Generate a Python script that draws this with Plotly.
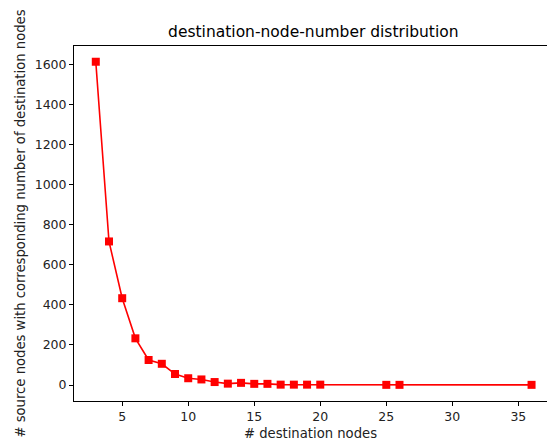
import plotly.graph_objects as go

dest_nodes = [3, 4, 5, 6, 7, 8, 9, 10, 11, 12, 13, 14, 15, 16, 17, 18, 19, 20, 25, 26, 36]
source_counts = [1612, 716, 433, 233, 125, 106, 55, 34, 28, 15, 7, 11, 6, 6, 2, 2, 2, 2, 1, 1, 1]

x_ticks = [5, 10, 15, 20, 25, 30, 35]
y_ticks = [0, 200, 400, 600, 800, 1000, 1200, 1400, 1600]

fig = go.Figure()
fig.add_trace(go.Scatter(
    x=dest_nodes, y=source_counts, mode="lines+markers",
    line=dict(color="#ff0000", width=1.6),
    marker=dict(symbol="square", size=8, color="#ff0000"),
    showlegend=False,
))

axis_common = dict(
    showgrid=False, zeroline=False, showline=True, linecolor="black", linewidth=1,
    ticks="outside", ticklen=4, tickwidth=1, tickcolor="black",
    tickfont=dict(family="DejaVu Sans", size=12.5, color="#222222"),
)

fig.update_layout(
    width=547, height=442,
    margin=dict(l=74, r=0, t=46, b=41),
    plot_bgcolor="white", paper_bgcolor="white",
    font=dict(family="DejaVu Sans", color="black"),
    title=dict(text="destination-node-number distribution", x=0.506, xref="paper",
               xanchor="center", y=1 - 32 / 442, yanchor="middle",
               font=dict(family="DejaVu Sans", size=15.5, color="black")),
    xaxis=dict(**axis_common, range=[1.35, 37.17], tickvals=x_ticks, mirror=True,
               title=dict(text="# destination nodes", standoff=5,
                          font=dict(family="DejaVu Sans", size=13.2, color="#222222"))),
    yaxis=dict(**axis_common, range=[-79.5, 1690.5], tickvals=y_ticks,
               title=dict(text="# source nodes with corresponding number of destination nodes",
                          standoff=6,
                          font=dict(family="DejaVu Sans", size=13.2, color="#222222"))),
)

fig.write_html("out.html")
